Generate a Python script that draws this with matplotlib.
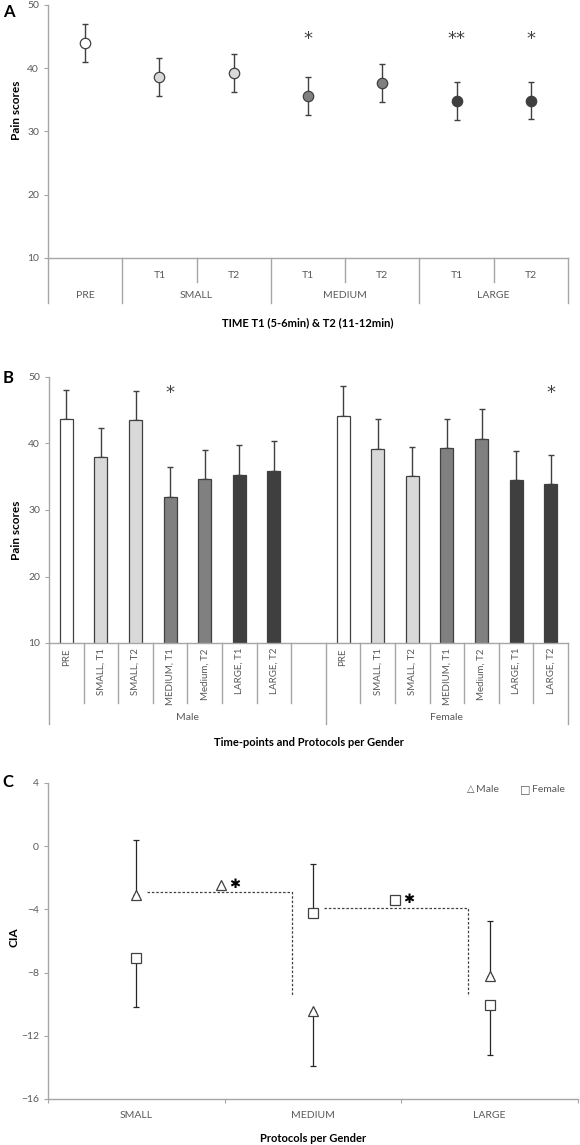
import numpy as np
import matplotlib
matplotlib.use('Agg')
import matplotlib.pyplot as plt
from matplotlib.lines import Line2D
from matplotlib.transforms import blended_transform_factory

plt.rcParams['font.family'] = ['Lato', 'DejaVu Sans']

# ---- data ----
# A: pain scores over time, all subjects
a_top = ['', 'T1', 'T2', 'T1', 'T2', 'T1', 'T2']
a_groups = ['PRE', 'SMALL', 'MEDIUM', 'LARGE']
a_group_span = [(0, 0), (1, 2), (3, 4), (5, 6)]
a_mean = [44.0, 38.6, 39.3, 35.6, 37.7, 34.8, 34.9]
a_err = [3.0, 3.0, 3.0, 3.0, 3.0, 3.0, 3.0]
a_prot = ['PRE', 'SMALL', 'SMALL', 'MEDIUM', 'MEDIUM', 'LARGE', 'LARGE']
a_stars = ['', '', '', '*', '', '**', '*']

# B: pain scores per gender
b_labels = ['PRE', 'SMALL, T1', 'SMALL, T2', 'MEDIUM, T1', 'Medium, T2', 'LARGE, T1', 'LARGE, T2']
b_prot = ['PRE', 'SMALL', 'SMALL', 'MEDIUM', 'MEDIUM', 'LARGE', 'LARGE']
b_male = [43.7, 38.0, 43.5, 31.9, 34.7, 35.2, 35.9]
b_male_sd = [4.4, 4.4, 4.4, 4.5, 4.3, 4.5, 4.5]
b_female = [44.2, 39.2, 35.1, 39.3, 40.7, 34.5, 33.9]
b_female_sd = [4.5, 4.5, 4.4, 4.4, 4.5, 4.4, 4.4]
b_male_stars = ['', '', '', '*', '', '', '']
b_female_stars = ['', '', '', '', '', '', '*']

# C: CIA per protocol and gender
c_cats = ['SMALL', 'MEDIUM', 'LARGE']
c_male = [-3.1, -10.4, -8.2]
c_male_lo = [0.0, 3.5, 0.0]
c_male_hi = [3.5, 0.0, 3.45]
c_female = [-7.05, -4.2, -10.05]
c_female_lo = [3.15, 0.0, 3.15]
c_female_hi = [0.0, 3.1, 0.0]
# dashed significance brackets (x, y)
c_bracket1 = ([0.06, 0.88, 0.88], [-2.9, -2.9, -9.5])
c_bracket2 = ([1.06, 1.88, 1.88], [-3.9, -3.9, -9.5])

colors = {'PRE': 'white', 'SMALL': '#d9d9d9', 'MEDIUM': '#808080', 'LARGE': '#3f3f3f'}
spine_col = '#a6a6a6'
tick_col = '#595959'
edge = '#404040'

W, H = 580, 1145
fig = plt.figure(figsize=(W / 100, H / 100), dpi=100)


def add_ax(l, r, t, b):
    return fig.add_axes([l / W, 1 - b / H, (r - l) / W, (b - t) / H])


def style(ax):
    for s in ['top', 'right']:
        ax.spines[s].set_visible(False)
    for s in ['left', 'bottom']:
        ax.spines[s].set_color(spine_col)
        ax.spines[s].set_linewidth(1.0)
    ax.tick_params(axis='y', colors=spine_col, labelcolor=tick_col, labelsize=7.5, length=3, width=0.8)


def vline(ax, x, top, bot):
    tr = blended_transform_factory(ax.transData, fig.transFigure)
    ax.add_line(Line2D([x, x], [1 - top / H, 1 - bot / H], transform=tr,
                       color=spine_col, lw=1.0, clip_on=False))


def ptext(ax, x, ypx, s, **kw):
    tr = blended_transform_factory(ax.transData, fig.transFigure)
    ax.text(x, 1 - ypx / H, s, transform=tr, **kw)


star_kw = dict(ha='center', va='center', fontsize=13, color='#404040', family=['DejaVu Sans'])

# ---------------- A ----------------
axA = add_ax(48, 568, 5, 258)
style(axA)
xa = np.arange(len(a_mean))
axA.errorbar(xa, a_mean, yerr=a_err, fmt='none', ecolor=edge, elinewidth=1.0, capsize=2.5, capthick=1.0, zorder=2)
for i in range(len(a_mean)):
    axA.plot(xa[i], a_mean[i], 'o', ms=7.5, mfc=colors[a_prot[i]], mec=edge, mew=0.9, zorder=3)
    if a_stars[i]:
        axA.text(xa[i], 44.6, a_stars[i], **star_kw)
axA.set_xlim(-0.5, 6.5)
axA.set_ylim(10, 50)
axA.set_yticks([10, 20, 30, 40, 50])
axA.set_xticks([])
for x in [-0.5, 0.5, 2.5, 4.5, 6.5]:
    vline(axA, x, 258, 303)
for x in [1.5, 3.5, 5.5]:
    vline(axA, x, 258, 282)
for i, t in enumerate(a_top):
    if t:
        ptext(axA, xa[i], 275, t, ha='center', va='center', fontsize=7.5, color=tick_col)
for g, (s, e) in zip(a_groups, a_group_span):
    ptext(axA, (s + e) / 2, 296, g, ha='center', va='center', fontsize=7.5, color=tick_col)
ptext(axA, 3, 323, 'TIME T1 (5-6min) & T2 (11-12min)', ha='center', va='center', fontsize=8, fontweight='bold')
fig.text(16 / W, 1 - 110 / H, 'Pain scores', rotation=90, ha='center', va='center', fontsize=8.5, fontweight='bold')
fig.text(9 / W, 1 - 12 / H, 'A', ha='center', va='center', fontsize=12, fontweight='bold')

# ---------------- B ----------------
axB = add_ax(49, 568, 377, 643)
style(axB)
xm = np.arange(7)
xf = np.arange(7) + 8
bw = 0.38
for xs, vals, sds, stars in [(xm, b_male, b_male_sd, b_male_stars), (xf, b_female, b_female_sd, b_female_stars)]:
    for i in range(7):
        axB.bar(xs[i], vals[i], width=bw, color=colors[b_prot[i]], edgecolor=edge, linewidth=0.9, zorder=2)
        axB.errorbar(xs[i], vals[i], yerr=[[0], [sds[i]]], fmt='none', ecolor=edge, elinewidth=1.0,
                     capsize=2.5, capthick=1.0, zorder=1)
        if stars[i]:
            axB.text(xs[i], 47.6, stars[i], **star_kw)
axB.set_xlim(-0.5, 14.5)
axB.set_ylim(10, 50)
axB.set_yticks([10, 20, 30, 40, 50])
axB.set_xticks([])
for x in [-0.5, 7.5, 14.5]:
    vline(axB, x, 643, 724)
for x in list(np.arange(0.5, 7, 1.0)) + list(np.arange(8.5, 14, 1.0)):
    vline(axB, x, 643, 703)
for xs in [xm, xf]:
    for i in range(7):
        ptext(axB, xs[i], 648, b_labels[i], rotation=90, ha='center', va='top', fontsize=7, color=tick_col)
ptext(axB, 3.5, 717, 'Male', ha='center', va='center', fontsize=7.5, color=tick_col)
ptext(axB, 11, 717, 'Female', ha='center', va='center', fontsize=7.5, color=tick_col)
ptext(axB, 7, 743, 'Time-points and Protocols per Gender', ha='center', va='center', fontsize=8, fontweight='bold')
fig.text(16 / W, 1 - 530 / H, 'Pain scores', rotation=90, ha='center', va='center', fontsize=8.5, fontweight='bold')
fig.text(8 / W, 1 - 378 / H, 'B', ha='center', va='center', fontsize=12, fontweight='bold')

# ---------------- C ----------------
axC = add_ax(48, 578, 783, 1099)
style(axC)
xc = np.arange(3)
axC.errorbar(xc, c_male, yerr=[c_male_lo, c_male_hi], fmt='none', ecolor='#262626', elinewidth=0.9,
             capsize=2, capthick=0.9, zorder=1)
axC.errorbar(xc, c_female, yerr=[c_female_lo, c_female_hi], fmt='none', ecolor='#262626', elinewidth=0.9,
             capsize=2, capthick=0.9, zorder=1)
axC.plot(xc, c_male, '^', ms=7.5, mfc='white', mec=edge, mew=0.9, ls='none', zorder=3)
axC.plot(xc, c_female, 's', ms=7.5, mfc='white', mec=edge, mew=0.9, ls='none', zorder=3)
for bx, by in [c_bracket1, c_bracket2]:
    axC.plot(bx, by, color=edge, lw=0.9, ls=(0, (2, 1.5)), zorder=1)
axC.plot(0.48, -2.45, '^', ms=7.5, mfc='white', mec=edge, mew=0.9)
axC.text(0.555, -2.45, '✱', ha='center', va='center', fontsize=9.5, family=['DejaVu Sans'])
axC.plot(1.465, -3.4, 's', ms=7.5, mfc='white', mec=edge, mew=0.9)
axC.text(1.54, -3.4, '✱', ha='center', va='center', fontsize=9.5, family=['DejaVu Sans'])
axC.text(1.87, 3.6, '△', ha='left', va='center', fontsize=7, color=tick_col, family=['DejaVu Sans'])
axC.text(1.925, 3.6, 'Male', ha='left', va='center', fontsize=7.5, color=tick_col)
axC.text(2.17, 3.6, '□', ha='left', va='center', fontsize=8, color=tick_col, family=['DejaVu Sans'])
axC.text(2.24, 3.6, 'Female', ha='left', va='center', fontsize=7.5, color=tick_col)
axC.set_xlim(-0.5, 2.5)
axC.set_ylim(-16, 4)
axC.set_yticks([-16, -12, -8, -4, 0, 4])
axC.set_xticks(xc)
axC.set_xticklabels(c_cats)
axC.set_xticks([-0.5, 0.5, 1.5, 2.5], minor=True)
axC.tick_params(axis='x', which='major', length=0, pad=9, labelsize=7.5, labelcolor=tick_col)
axC.tick_params(axis='x', which='minor', length=3, width=0.8, color=spine_col)
ptext(axC, 1, 1138, 'Protocols per Gender', ha='center', va='center', fontsize=8, fontweight='bold')
fig.text(14 / W, 1 - 937 / H, 'CIA', rotation=90, ha='center', va='center', fontsize=8.5, fontweight='bold')
fig.text(8 / W, 1 - 782 / H, 'C', ha='center', va='center', fontsize=12, fontweight='bold')

fig.savefig('out.png', dpi=100)
